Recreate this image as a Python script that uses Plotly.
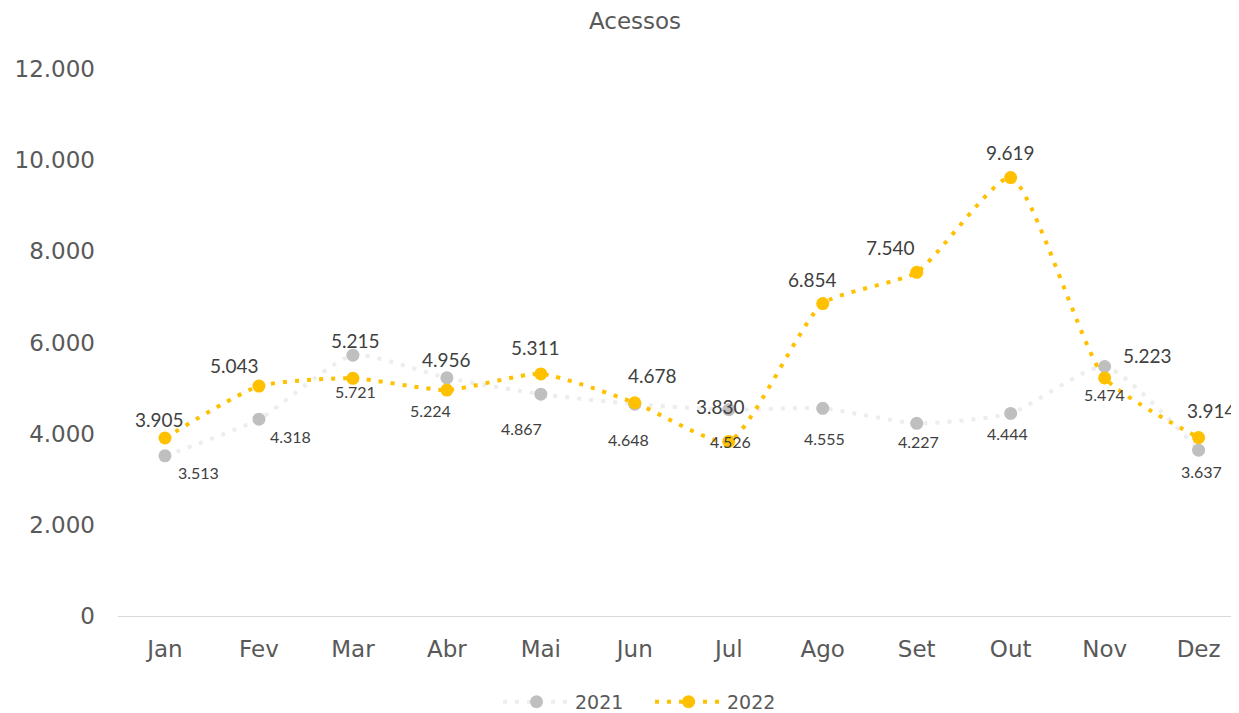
import plotly.graph_objects as go

months = ["Jan", "Fev", "Mar", "Abr", "Mai", "Jun", "Jul", "Ago", "Set", "Out", "Nov", "Dez"]
acessos_2021 = [3513, 4318, 5721, 5224, 4867, 4648, 4526, 4555, 4227, 4444, 5474, 3637]
acessos_2022 = [3905, 5043, 5215, 4956, 5311, 4678, 3830, 6854, 7540, 9619, 5223, 3914]
y_ticks = [0, 2000, 4000, 6000, 8000, 10000, 12000]

# label offsets (px, screen coords: +x right, +y down) relative to each point
off_2022 = [(-5, -19), (-24, -21), (3, -38), (0, -31), (-5, -26), (18, -27),
            (-8, -35), (-10, -24), (-26, -25), (0, -25), (43, -22), (13, -27)]
off_2021 = [(34, 17), (32, 17), (3, 36), (-16, 33), (-19, 34), (-6, 35),
            (2, 32), (2, 30), (2, 18), (-3, 20), (0, 28), (3, 21)]

GOLD = "#FFC000"
TXT = "#595959"

# the page body keeps its 8px default margin, so the figure is 8px smaller
W, H = 1231, 705


def fmt(v):
    return f"{v:,}".replace(",", ".")


fig = go.Figure()
fig.add_trace(go.Scatter(
    x=months, y=acessos_2021, name="2021", mode="lines+markers",
    line=dict(color="#EDEDED", width=4, dash="4px,8px", shape="spline", smoothing=0.55),
    marker=dict(color="#BFBFBF", size=13),
))
fig.add_trace(go.Scatter(
    x=months, y=acessos_2022, name="2022", mode="lines+markers",
    line=dict(color=GOLD, width=4, dash="4px,8px", shape="spline", smoothing=0.55),
    marker=dict(color=GOLD, size=13),
))

annotations = []
for m, v, (dx, dy) in zip(months, acessos_2022, off_2022):
    annotations.append(dict(x=m, y=v, text=fmt(v), showarrow=False, xshift=dx, yshift=-dy,
                            font=dict(family="Lato", size=19, color="#404040")))
for m, v, (dx, dy) in zip(months, acessos_2021, off_2021):
    annotations.append(dict(x=m, y=v, text=fmt(v), showarrow=False, xshift=dx, yshift=-dy,
                            font=dict(family="Lato", size=16, color="#404040")))

fig.update_layout(
    width=W, height=H,
    margin=dict(l=110, r=0, t=61, b=97, autoexpand=False),
    separators=",.",
    plot_bgcolor="white", paper_bgcolor="white",
    font=dict(family="DejaVu Sans", color=TXT),
    title=dict(text="Acessos", x=627 / W, xanchor="center", y=1 - 13 / H, yanchor="middle",
               font=dict(family="DejaVu Sans", size=23, color=TXT)),
    xaxis=dict(range=[-0.5, 11.43], showgrid=False, showline=True, linecolor="#D9D9D9",
               linewidth=1, ticks="", tickfont=dict(size=23, color=TXT), ticklabelstandoff=12,
               zeroline=False, automargin=False),
    yaxis=dict(range=[0, 12000], tickvals=y_ticks, tickformat=",", showgrid=False, showline=False,
               zeroline=False, tickfont=dict(size=23, color=TXT), ticklabelstandoff=22,
               automargin=False),
    legend=dict(orientation="h", x=0.4746, xanchor="center", y=-0.157, yanchor="middle",
                font=dict(size=19, color=TXT), itemwidth=67,
                entrywidth=70, entrywidthmode="pixels"),
    annotations=annotations,
    showlegend=True,
)

fig.write_html("out.html")
